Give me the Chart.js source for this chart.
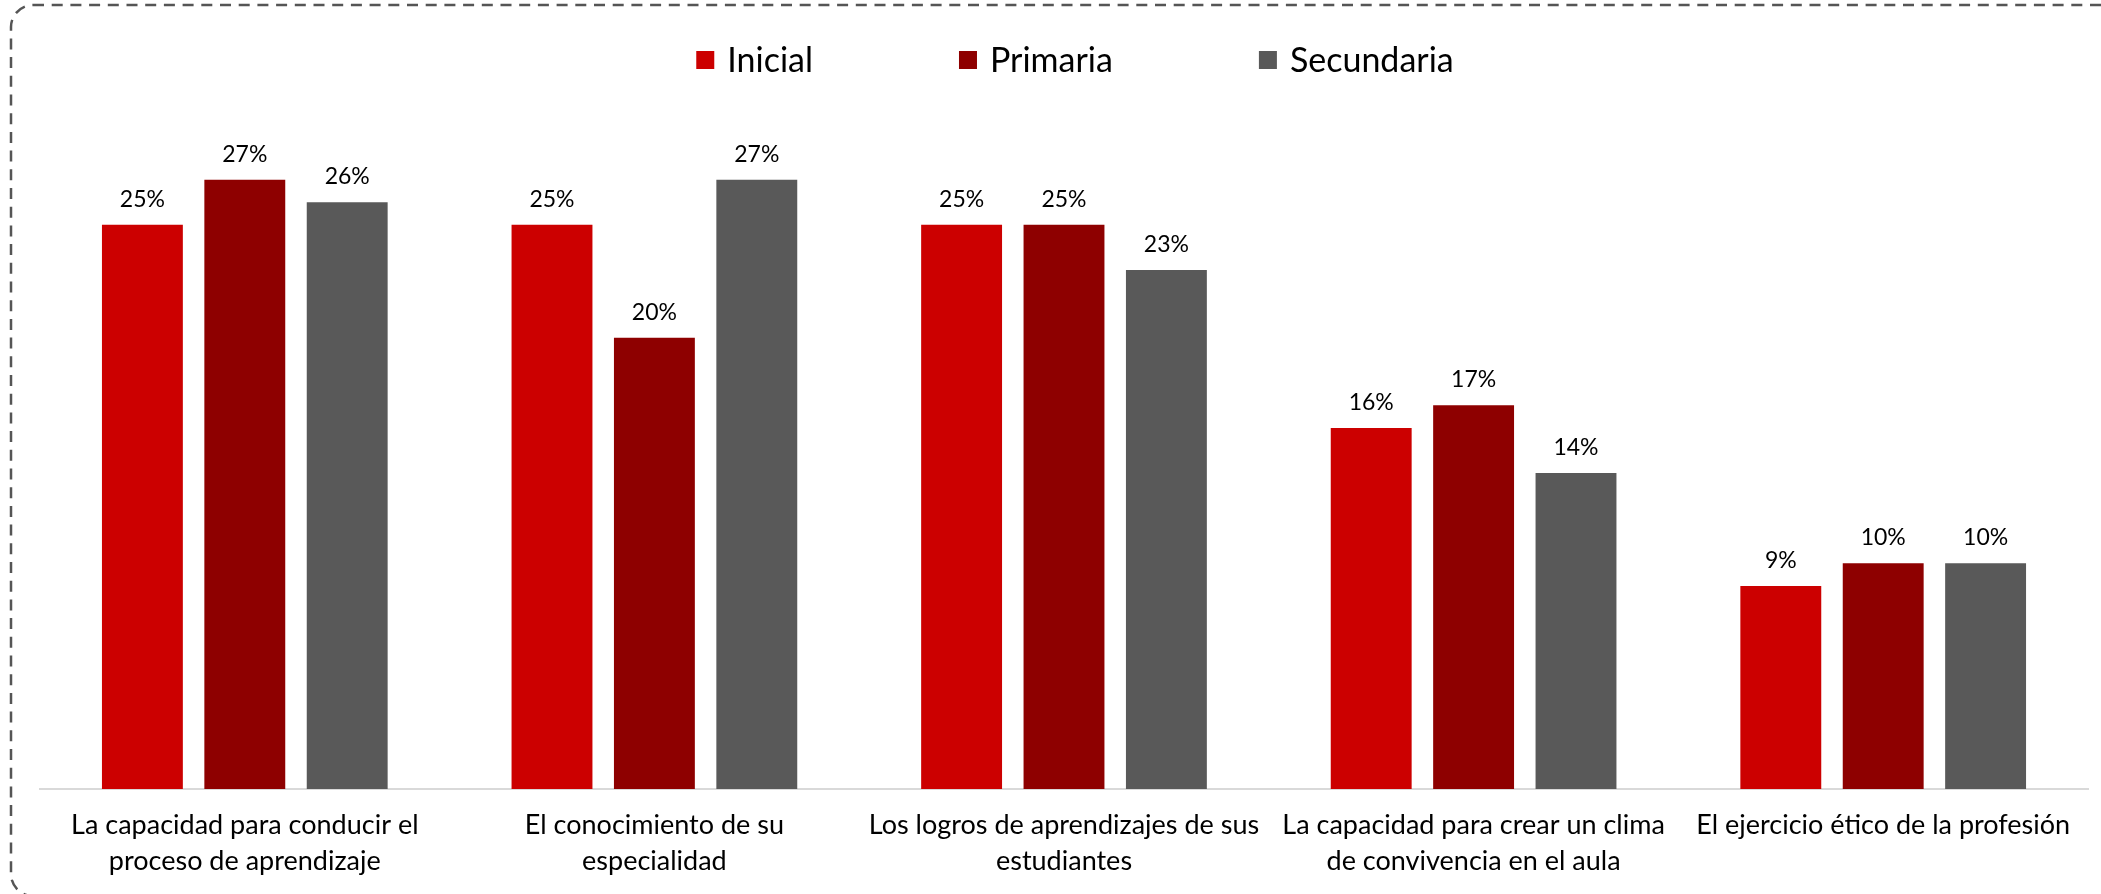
<!DOCTYPE html>
<html>
<head>
<meta charset="utf-8">
<script src="https://cdn.jsdelivr.net/npm/chart.js@4/dist/chart.umd.min.js"></script>
<style>
  html, body { margin: 0; padding: 0; background: #ffffff; overflow: hidden; }
  #wrap { position: relative; width: 2101px; height: 894px; }
  canvas { display: block; }
</style>
</head>
<body>
<div id="wrap"><canvas id="c" width="2101" height="894"></canvas></div>
<script>
// ---- data ----
const categories = [
  ["La capacidad para conducir el", "proceso de aprendizaje"],
  ["El conocimiento de su", "especialidad"],
  ["Los logros de aprendizajes de sus", "estudiantes"],
  ["La capacidad para crear un clima", "de convivencia en el aula"],
  ["El ejercicio ético de la profesión"]
];
const seriesNames = ["Inicial", "Primaria", "Secundaria"];
const inicial = [25, 25, 25, 16, 9];
const primaria = [27, 20, 25, 17, 10];
const secundaria = [26, 27, 23, 14, 10];
const seriesColors = ["#CC0000", "#8E0000", "#595959"];

const FONT = "Lato, 'Open Sans', sans-serif";

const framePlugin = {
  id: 'frame',
  beforeDraw(chart) {
    const ctx = chart.ctx;
    ctx.save();
    ctx.fillStyle = '#ffffff';
    ctx.fillRect(0, 0, chart.width, chart.height);
    ctx.strokeStyle = '#555555';
    ctx.lineWidth = 2.5;
    ctx.setLineDash([11, 7.7]);
    ctx.beginPath();
    ctx.roundRect(11, 5, 2130, 891, 22);
    ctx.stroke();
    ctx.restore();
  }
};

const valueLabels = {
  id: 'valueLabels',
  afterDatasetsDraw(chart) {
    const ctx = chart.ctx;
    ctx.save();
    ctx.font = "23px " + FONT;
    ctx.fillStyle = '#000000';
    ctx.textAlign = 'center';
    ctx.textBaseline = 'alphabetic';
    chart.data.datasets.forEach((ds, i) => {
      const meta = chart.getDatasetMeta(i);
      meta.data.forEach((bar, j) => {
        ctx.fillText(Math.round(ds.data[j]) + '%', bar.x, bar.y - 18);
      });
    });
    ctx.restore();
  }
};

const customLegend = {
  id: 'customLegend',
  afterDraw(chart) {
    const ctx = chart.ctx;
    ctx.save();
    ctx.font = "34px " + FONT;
    ctx.textBaseline = 'middle';
    ctx.textAlign = 'left';
    const box = 18, boxGap = 13, itemGap = 146;
    const items = chart.data.datasets.map(ds => ({
      text: ds.label, color: ds.backgroundColor,
      w: box + boxGap + ctx.measureText(ds.label).width
    }));
    const total = items.reduce((s, it) => s + it.w, 0) + itemGap * (items.length - 1);
    let x = 1075 - total / 2;
    const cy = 60;
    items.forEach(it => {
      ctx.fillStyle = it.color;
      ctx.fillRect(x, cy - box / 2, box, box);
      ctx.fillStyle = '#000000';
      ctx.fillText(it.text, x + box + boxGap, cy + 1);
      x += it.w + itemGap;
    });
    ctx.restore();
  }
};

function build() {
  const seriesData = [inicial, primaria, secundaria];
  new Chart(document.getElementById('c'), {
    type: 'bar',
    data: {
      labels: categories,
      datasets: seriesNames.map((name, i) => ({
        label: name,
        data: seriesData[i],
        backgroundColor: seriesColors[i],
        borderWidth: 0,
        categoryPercentage: 0.75,
        barPercentage: 0.79
      }))
    },
    options: {
      responsive: false,
      animation: false,
      devicePixelRatio: 1,
      layout: { padding: { top: 112, left: 40, right: 13, bottom: 0 } },
      plugins: {
        legend: { display: false },
        tooltip: { enabled: false }
      },
      scales: {
        x: {
          grid: { display: false, drawTicks: false },
          border: { display: true, color: '#D9D9D9', width: 2 },
          ticks: {
            color: '#000000',
            font: { family: FONT, size: 27, lineHeight: '36px' },
            padding: 18,
            maxRotation: 0,
            autoSkip: false
          },
          afterFit(scale) { scale.height = 105; }
        },
        y: {
          display: false,
          min: 0,
          max: 30
        }
      }
    },
    plugins: [framePlugin, valueLabels, customLegend]
  });
}

Promise.all([
  document.fonts.load("23px Lato"),
  document.fonts.load("27px Lato"),
  document.fonts.load("34px Lato")
]).then(build, build);
</script>
</body>
</html>
